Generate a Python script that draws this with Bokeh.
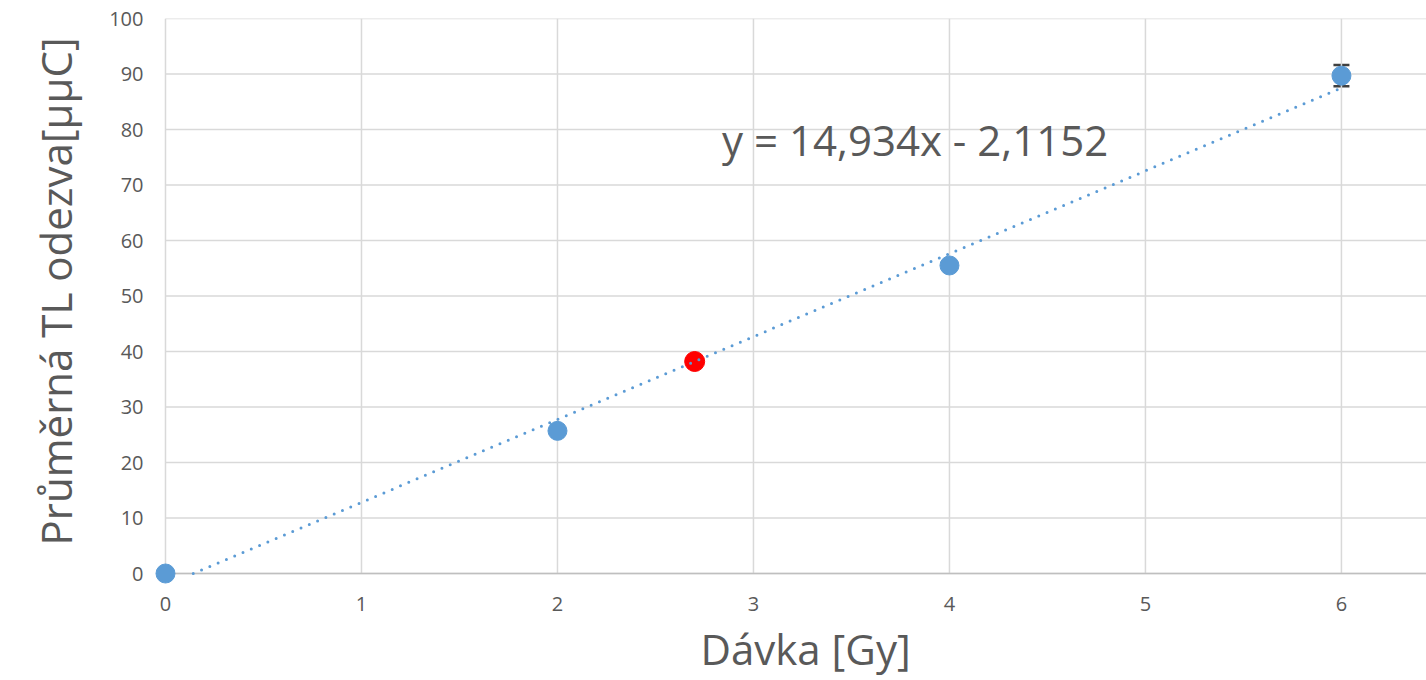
from bokeh.plotting import figure
from bokeh.models import Range1d, Whisker, ColumnDataSource, FixedTicker, Label, TeeHead, Title
from bokeh.embed import file_html
from bokeh.resources import INLINE

# data
dose = [0, 2, 4, 6]
response = [0.0, 25.7, 55.5, 89.7]
err = [0.0, 0.0, 0.0, 1.9]
unknown_dose = [2.7]
unknown_resp = [38.2]
slope = 14.934
intercept = -2.1152
fit_x_end = 6
equation = "y = 14,934x - 2,1152"
x_label = "Dávka [Gy]"
y_label = "Průměrná TL odezva[μμC]"
x_ticks = [0, 1, 2, 3, 4, 5, 6]
y_ticks = list(range(0, 101, 10))
x_max = 6.434
y_max = 100

FONT = "Open Sans"
TXT = "#595959"
BLUE = "#5b9bd5"
GRID = "#d9d9d9"

# small padding (in data units) so that markers at the axis origin are not clipped
pad_x = 0.0612
pad_y = 2.16

p = figure(width=1426, height=680, output_backend="svg", toolbar_location=None,
           x_range=Range1d(-pad_x, x_max), y_range=Range1d(-pad_y, y_max),
           min_border_left=153, min_border_right=0, min_border_top=18, min_border_bottom=95)
p.outline_line_color = None
p.background_fill_color = "white"
p.xgrid.visible = False
p.ygrid.visible = False

for ax in (p.xaxis[0], p.yaxis[0]):
    ax.major_tick_line_color = None
    ax.minor_tick_line_color = None
    ax.axis_line_color = None
    ax.major_label_text_font = FONT
    ax.major_label_text_font_size = "20px"
    ax.major_label_text_color = TXT

p.xaxis.ticker = FixedTicker(ticks=x_ticks)
p.yaxis.ticker = FixedTicker(ticks=y_ticks)
p.xaxis.major_label_standoff = 5
p.yaxis.major_label_standoff = 4

# axis titles
p.add_layout(Title(text=x_label, text_font=FONT, text_font_size="42px", text_color=TXT,
                   text_font_style="normal", align="left", offset=547, standoff=8), "below")
p.add_layout(Title(text=y_label, text_font=FONT, text_font_size="42px", text_color=TXT,
                   text_font_style="normal", align="left", offset=40, standoff=46), "left")

# grid lines bounded to the data area (0..x_max, 0..y_max)
p.segment(x0=x_ticks, y0=[0] * len(x_ticks), x1=x_ticks, y1=[y_max] * len(x_ticks),
          line_color=GRID, line_width=1.5)
p.segment(x0=[0] * len(y_ticks), y0=y_ticks, x1=[x_max] * len(y_ticks), y1=y_ticks,
          line_color=GRID, line_width=1.5)
# x axis line
p.segment(x0=[0], y0=[0], x1=[x_max], y1=[0], line_color="#bfbfbf", line_width=1.5)

src = ColumnDataSource(dict(x=dose, y=response,
                            lo=[r - e for r, e in zip(response, err)],
                            hi=[r + e for r, e in zip(response, err)]))

wh = Whisker(source=src, base="x", lower="lo", upper="hi", line_color="#404040", line_width=1.5,
             upper_head=TeeHead(size=16, line_color="#404040", line_width=2.5),
             lower_head=TeeHead(size=16, line_color="#404040", line_width=2.5))
p.add_layout(wh)

p.scatter("x", "y", source=src, size=19, fill_color=BLUE, line_color=BLUE)
p.scatter(unknown_dose, unknown_resp, size=20, fill_color="#ff0000", line_color="#ff0000")

x0 = -intercept / slope
p.line([x0, fit_x_end], [slope * x0 + intercept, slope * fit_x_end + intercept],
       line_color=BLUE, line_width=3, line_dash="0 9", line_cap="round")

p.add_layout(Label(x=2.84, y=78.2, text=equation, text_font=FONT, text_font_size="42px",
                   text_color=TXT, text_baseline="middle", text_align="left"))

open("out.html", "w").write(file_html(p, INLINE))
